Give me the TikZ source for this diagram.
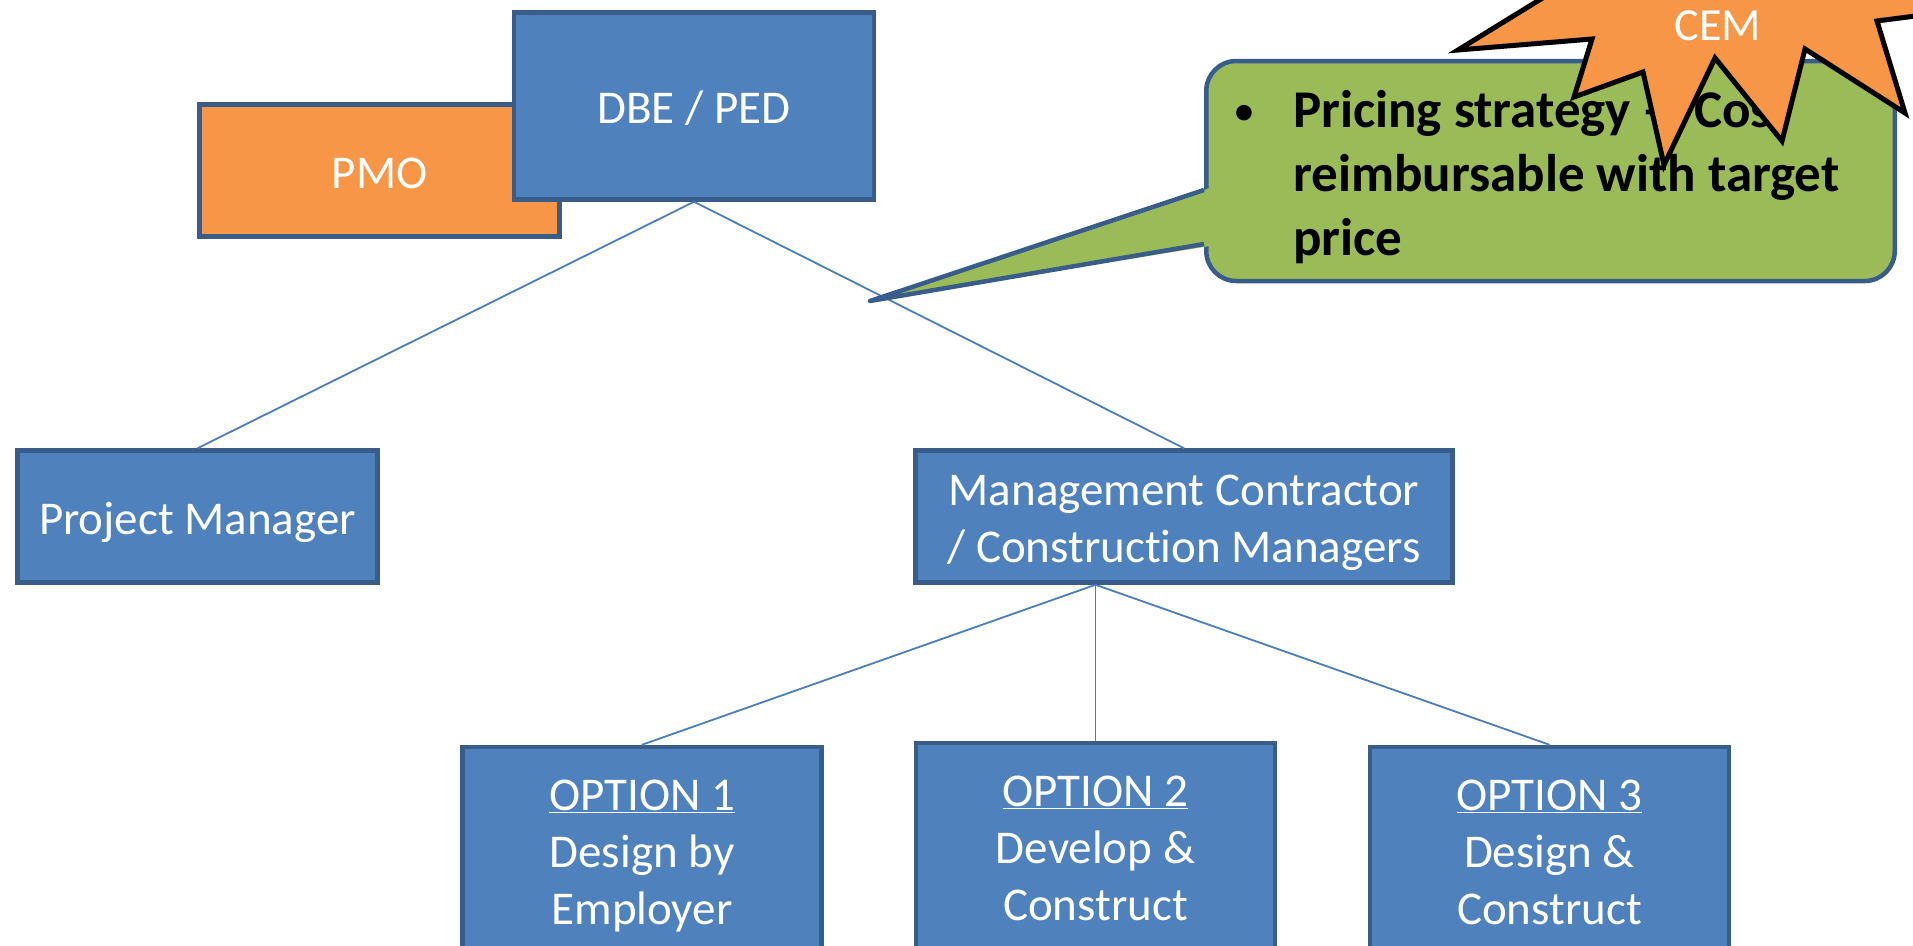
\documentclass[tikz,border=0pt]{standalone}
\usepackage{fontspec}
\setmainfont[Ligatures={NoCommon,NoContextual},Contextuals=NoAlternate]{Carlito}
\definecolor{boxblue}{HTML}{4F81BD}
\definecolor{boxborder}{HTML}{385D8A}
\definecolor{boxorange}{HTML}{F79646}
\definecolor{calloutgreen}{HTML}{9BBB59}
\definecolor{linkblue}{HTML}{4A7EBB}
\newcommand\bstrut{\rule[-11pt]{0pt}{57pt}}
\begin{document}
\begin{tikzpicture}[x=1pt,y=-1pt,
  orgbox/.style={draw=boxborder, line width=4.5pt, fill=boxblue, text=white,
    inner sep=0pt, align=center, font=\fontsize{47}{57}\selectfont},
  orangebox/.style={orgbox, fill=boxorange},
  link/.style={draw=linkblue, line width=1.8pt},
  calloutbody/.style={draw=boxborder, line width=4.5pt, fill=calloutgreen,
    rounded corners=30pt, inner sep=0pt},
  starshape/.style={fill=boxorange, draw=black, line width=5pt, line join=miter}]
\useasboundingbox (0,0) rectangle (1913,945);
\clip (0,0) rectangle (1913,945);
\fill[white] (0,0) rectangle (1913,945);

% boxes
\node[orangebox, minimum width=360pt, minimum height=132pt] (pmo) at (379.5,170.5) {\bstrut PMO};
\node[orgbox, minimum width=360pt, minimum height=187pt] (dbe) at (694,106) {\bstrut DBE / PED};
\node[orgbox, minimum width=360pt, minimum height=132pt] (pm) at (197.5,516.5) {\bstrut Project Manager};
\node[orgbox, minimum width=537pt, minimum height=132pt] (mc) at (1184,516.5) {\bstrut Management Contractor\\\bstrut / Construction Managers};
\node[orgbox, minimum width=359pt, minimum height=206pt] (opt1) at (642,850) {\bstrut\underline{OPTION 1}\\\bstrut Design by\\\bstrut Employer};
\node[orgbox, minimum width=359pt, minimum height=206pt] (opt2) at (1095.5,846) {\bstrut\underline{OPTION 2}\\\bstrut Develop \&\\\bstrut Construct};
\node[orgbox, minimum width=359pt, minimum height=206pt] (opt3) at (1549.5,850) {\bstrut\underline{OPTION 3}\\\bstrut Design \&\\\bstrut Construct};

% connectors
\coordinate (mcb) at (mc.south -| opt2.north);
\draw[link] (dbe.south) -- (pm.north);
\draw[link] (dbe.south) -- (mc.north);
\draw[link] (mcb) -- (opt1.north);
\draw[link] (mcb) -- (opt2.north);
\draw[link] (mcb) -- (opt3.north);

% callout
\node[calloutbody, minimum width=688.5pt, minimum height=220pt] (callout) at (1550.5,171) {};
\coordinate (tip) at (870,301);
\fill[calloutgreen] (1210,188) -- (tip) -- (1210,246) -- cycle;
\draw[boxborder, line width=4.5pt, line join=round] (1204,190) -- (tip) -- (1204,244);
\node[anchor=north west, inner sep=0pt, align=left, font=\bfseries\fontsize{53}{64}\selectfont] (ctext) at (1233,90)
  {\makebox[60pt][l]{\raisebox{2pt}{\normalfont\fontsize{44}{44}\selectfont •}}Pricing strategy – \hspace{13pt}Cost\\\hspace*{60pt}reimbursable with target\\\hspace*{60pt}price};

% star
\filldraw[starshape] (1458,50) -- (1592,39) -- (1574,97) -- (1643,72) -- (1664,165)
  -- (1715,58) -- (1782,141) -- (1805,49) -- (1905,113) -- (1877,21) -- (2000,5)
  -- (1950,-60) -- (1750,-80) -- (1580,-25) -- cycle;
\node[text=white, inner sep=0pt, font=\fontsize{46}{55}\selectfont] (cem) at (1718,26) {CEM};
\end{tikzpicture}
\end{document}
